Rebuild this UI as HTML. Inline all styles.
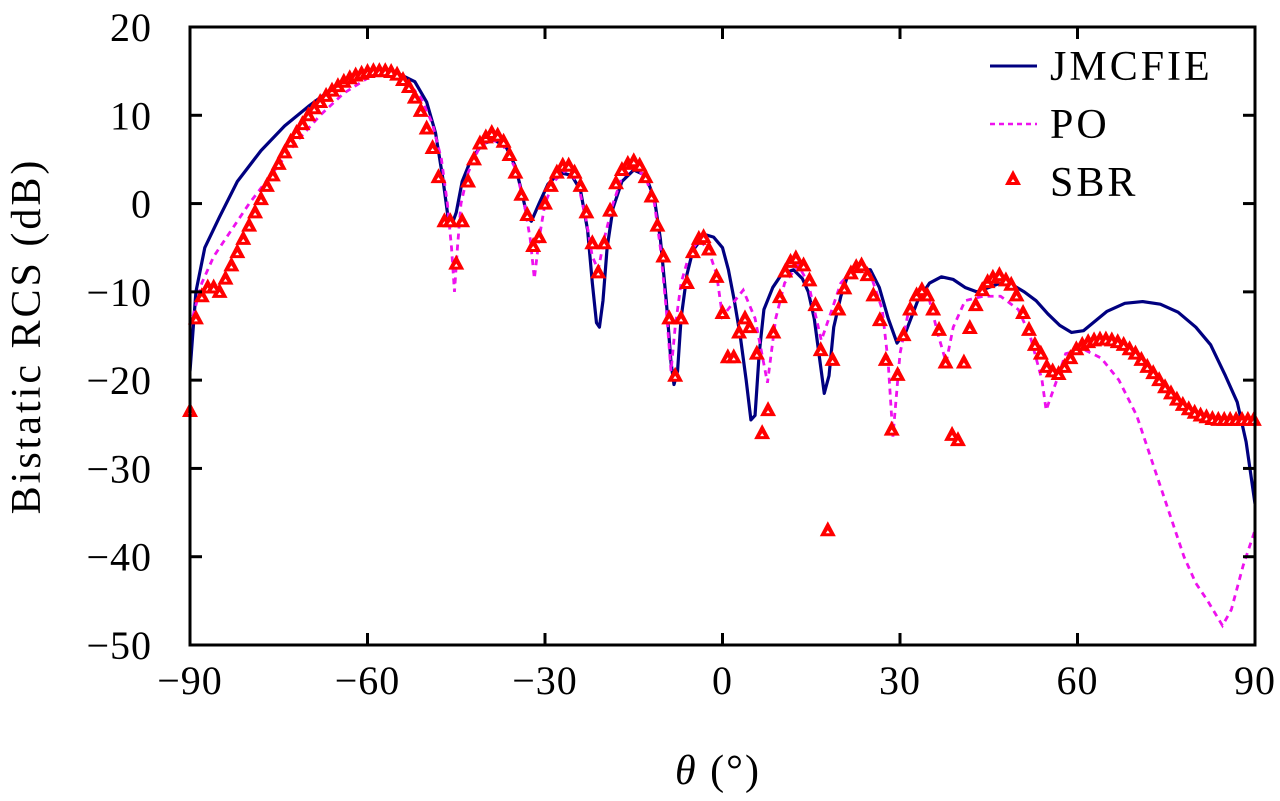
<!DOCTYPE html>
<html><head><meta charset="utf-8"><style>
html,body{margin:0;padding:0;background:#fff;}
svg{display:block;font-family:"Liberation Serif",serif;}
</style></head><body>
<svg id="chart" width="1280" height="801" viewBox="0 0 1280 801" xmlns="http://www.w3.org/2000/svg">
<g id="plot"></g>
<g id="axes"></g>
<text x="718" y="784" font-size="42" text-anchor="middle" letter-spacing="2"><tspan font-style="italic">θ</tspan> (°)</text>
<text transform="translate(40,336) rotate(-90)" font-size="42" text-anchor="middle" letter-spacing="3">Bistatic RCS (dB)</text>
<g>
<g><line x1="990" y1="66" x2="1037" y2="66" stroke="#000080" stroke-width="3"/><text x="1050" y="80" font-size="42" letter-spacing="3">JMCFIE</text></g>
<g><line x1="990" y1="124" x2="1037" y2="124" stroke="#ee11ee" stroke-width="2.5" stroke-dasharray="5,4"/><text x="1050" y="138" font-size="42" letter-spacing="3">PO</text></g>
<g><polygon points="1013,170 1021,185 1005,185" fill="#ff0000"/><polygon points="1013,179 1015,182 1011,182" fill="#fff"/><text x="1050" y="196" font-size="42" letter-spacing="3">SBR</text></g>
</g>
</svg>
<script>
const jmThetas=[-90,-89,-87.5,-85,-82,-78,-74,-70,-66,-62,-58,-55,-52,-50,-48.5,-47.3,-46.3,-45.8,-45,-44,-42.5,-40.5,-38.5,-36.5,-35,-34,-33,-32.3,-31,-29.5,-27.5,-25.5,-24,-22.8,-22,-21.3,-20.8,-20.2,-19.5,-18.5,-17,-15,-13,-11.5,-10.5,-9.5,-8.7,-8.2,-7.6,-7,-6,-5,-3,-1.5,0,1,2,3,4,4.8,5.5,6.2,7,8.5,10,12,13.5,14.5,15.5,16.5,17.2,18,18.8,20,21,22.5,25,26.5,28,29.5,31,33,35,37,39,41,43,45,47,49,51,53,55,57,59,61,63,65,68,71,74,77,80,82.5,85,87,88.5,90];
const jmValues=[-19,-10,-5,-1.5,2.5,6,8.8,11,13,14.4,15,14.8,13.8,11.5,8,3,-2,-2.5,-1,2.5,5,6.8,7.2,6.3,4.2,1.5,-1.5,-2,0,2.2,3.5,3.2,1.5,-3,-9,-13.5,-14,-11,-5,-0.5,2.5,3.8,3.2,0.5,-4,-11,-18,-20.5,-19,-13,-8,-5.3,-3.5,-3.8,-5,-7.5,-11,-15,-20,-24.5,-24,-17,-12,-9.5,-8,-7.5,-8.5,-10,-13,-18,-21.5,-19.5,-14,-10.5,-8.5,-7.5,-7.5,-9.5,-13,-15.8,-14.5,-11,-9,-8.3,-8.6,-9.5,-10,-9.5,-9,-9.2,-10,-11,-12.5,-13.8,-14.6,-14.4,-13.3,-12.2,-11.3,-11.1,-11.4,-12.3,-14,-16,-19.5,-22.5,-27,-34];
const poThetas=[-90,-88,-86,-83,-80,-76,-72,-68,-64,-60,-57,-54,-51,-49,-47.5,-46.5,-45.8,-45.3,-44.8,-44.2,-43,-41,-39,-37,-35,-33.5,-32.5,-31.8,-31,-30,-28.5,-26.5,-24.5,-23,-22,-21,-20,-18.5,-17,-15,-13,-11.5,-10.5,-9.5,-8.7,-8,-7,-5.5,-4,-2.5,-1,0,1.5,3.5,5.5,7.6,9,10.5,12.8,14.5,16.7,18.5,20,22,25,27,28,28.8,30,31.5,33,35,36.5,37.8,39,41,44,47,50,52,54,54.7,56.5,58,61,64,67,70,73,76,78,80,82,84.5,86,88,90];
const poValues=[-14,-9,-6,-3,0,3.5,7,10,12.5,14.2,14.8,14.3,12,9,5,0,-5,-10,-5,0,3.5,6.5,7.3,6.5,4,0,-4,-8.5,-4,0,2.5,3.8,2.5,-2,-6,-7.5,-4,0,3,4.2,3,0,-5,-12,-19,-14,-9,-5.5,-4.2,-5,-8,-12.8,-11.5,-9.8,-13,-20.3,-13,-9,-7,-9,-15.5,-12,-9,-7.5,-8,-12,-18,-26.4,-17,-12,-10,-11,-15,-18,-14,-11,-10.5,-10.5,-12,-15,-20,-23.4,-20,-17,-16.5,-17.5,-20,-24,-30,-36,-40,-43,-45,-47.8,-46,-41,-37];
const sbrThetas=[-90,-89,-88,-87,-86,-85,-84,-83,-82,-81,-80,-79,-78,-77,-76,-75,-74,-73,-72,-71,-70,-69,-68,-67,-66,-65,-64,-63,-62,-61,-60,-59,-58,-57,-56,-55,-54,-53,-52,-51,-50,-49,-48,-47,-46,-45,-44,-43,-42,-41,-40,-39,-38,-37,-36,-35,-34,-33,-32,-31,-30,-29,-28,-27,-26,-25,-24,-23,-22,-21,-20,-19,-18,-17,-16,-15,-14,-13,-12,-11,-10,-9,-8,-7,-6,-5,-4,-3.2,-2.3,-1,0,0.9,1.9,2.8,3.8,4.6,5.8,6.7,7.7,8.6,9.7,10.6,11.5,12.4,13.7,14.7,15.7,16.6,17.8,18.6,19.6,20.6,21.7,22.6,23.5,24.5,25.5,26.6,27.6,28.6,29.6,30.6,31.7,32.8,33.7,34.6,35.6,36.6,37.7,38.8,39.8,40.8,41.8,42.8,43.9,44.8,45.7,46.8,47.9,48.8,49.7,50.8,51.8,52.8,53.8,54.8,55.8,56.8,57.8,58.8,59.8,60.8,61.8,62.8,63.8,64.8,65.8,66.8,67.8,68.8,69.8,70.8,71.8,72.8,73.8,74.8,75.8,76.8,77.8,78.8,79.8,80.8,81.8,82.8,83.8,84.8,85.8,86.8,87.8,88.8,89.8];
const sbrValues=[-23.5,-13,-10.5,-9.5,-9.5,-10,-8.5,-7,-5.5,-4,-2.5,-1,0.5,2,3.2,4.5,5.8,7,8,9,10,10.8,11.5,12.2,12.8,13.3,13.8,14.2,14.5,14.7,14.9,15,15,15,14.9,14.6,14,13.2,12,10.5,8.5,6.3,3,-2,-2,-6.8,-2,2.5,5,6.8,7.5,8,7.7,7,5.5,3.5,1,-1.3,-4.8,-3.8,0,2,3.5,4.3,4.3,3.5,2,-1,-4.5,-7.8,-4.5,-0.8,2.3,3.8,4.5,4.8,4.3,3,0.8,-2.5,-6,-13,-19.5,-13,-9,-5.5,-4,-3.8,-5.2,-8.3,-12.4,-17.4,-17.4,-14.6,-13,-14,-17,-26,-23.4,-14.6,-10.6,-7.7,-6.6,-6.2,-7,-8.7,-11.5,-16.6,-37,-17.7,-12,-9.6,-7.9,-7.2,-7,-8.1,-10.4,-13.2,-17.7,-25.6,-19.4,-14.9,-12,-10.4,-9.8,-10.4,-12,-14.3,-18,-26.2,-26.8,-18,-14.1,-11.5,-9.8,-8.9,-8.4,-8.1,-8.7,-9.2,-10.4,-12.4,-14.3,-16,-17,-18.5,-19,-19.3,-18.5,-17.5,-16.5,-16,-15.7,-15.5,-15.4,-15.4,-15.5,-15.7,-16,-16.5,-17,-17.7,-18.5,-19.2,-20,-20.8,-21.5,-22.2,-22.8,-23.3,-23.7,-24,-24.2,-24.4,-24.5,-24.5,-24.5,-24.5,-24.5,-24.5,-24.5];
const xTicks=[-90,-60,-30,0,30,60,90];
const yTicks=[20,10,0,-10,-20,-30,-40,-50];

const NS='http://www.w3.org/2000/svg';
const L=190,R=1255,T=27,B=645;
const xs=v=>L+(v+90)/180*(R-L);
const ys=v=>T+(20-v)/70*(B-T);
function mk(tag,attrs,parent){const e=document.createElementNS(NS,tag);for(const k in attrs)e.setAttribute(k,attrs[k]);parent.appendChild(e);return e;}
const plot=document.getElementById('plot'),axes=document.getElementById('axes');

const cp=mk('clipPath',{id:'clip'},plot);mk('rect',{x:L,y:T-10,width:R-L,height:B-T+10},cp);
const jm=mk('polyline',{points:jmThetas.map((t,i)=>xs(t)+','+ys(jmValues[i])).join(' '),fill:'none',stroke:'#000080','stroke-width':3.2,'stroke-linejoin':'round','clip-path':'url(#clip)'},plot);


const po=mk('polyline',{points:poThetas.map((t,i)=>xs(t)+','+ys(poValues[i])).join(' '),fill:'none',stroke:'#ee11ee','stroke-width':2.8,'stroke-dasharray':'6,5','clip-path':'url(#clip)'},plot);


sbrThetas.forEach((t,i)=>{
  const x=xs(t),y=ys(sbrValues[i]);
  const g=mk('g',{},plot);
  
  
  mk('polygon',{points:`${x},${y-9} ${x+8},${y+6} ${x-8},${y+6}`,fill:'#ff0000'},g);
  mk('polygon',{points:`${x},${y} ${x+2},${y+3} ${x-2},${y+3}`,fill:'#fff'},g);
});

const frame=mk('rect',{x:L,y:T,width:R-L,height:B-T,fill:'none',stroke:'#000','stroke-width':3},axes);


xTicks.forEach(v=>{
  const x=xs(v);
  mk('line',{x1:x,y1:B,x2:x,y2:B-12,stroke:'#000','stroke-width':3},axes);
  mk('line',{x1:x,y1:T,x2:x,y2:T+12,stroke:'#000','stroke-width':3},axes);
  const tx=mk('text',{x:x,y:B+49,'font-size':40,'text-anchor':'middle','letter-spacing':1},axes);
  tx.textContent=(v<0?'\u2212'+(-v):''+v);
  
  
});
yTicks.forEach(v=>{
  const y=ys(v);
  mk('line',{x1:L,y1:y,x2:L+12,y2:y,stroke:'#000','stroke-width':3},axes);
  mk('line',{x1:R,y1:y,x2:R-12,y2:y,stroke:'#000','stroke-width':3},axes);
  const tx=mk('text',{x:L-38,y:y+14,'font-size':40,'text-anchor':'end','letter-spacing':1},axes);
  tx.textContent=(v<0?'\u2212'+(-v):''+v);
  
  
});
</script>
</body></html>
